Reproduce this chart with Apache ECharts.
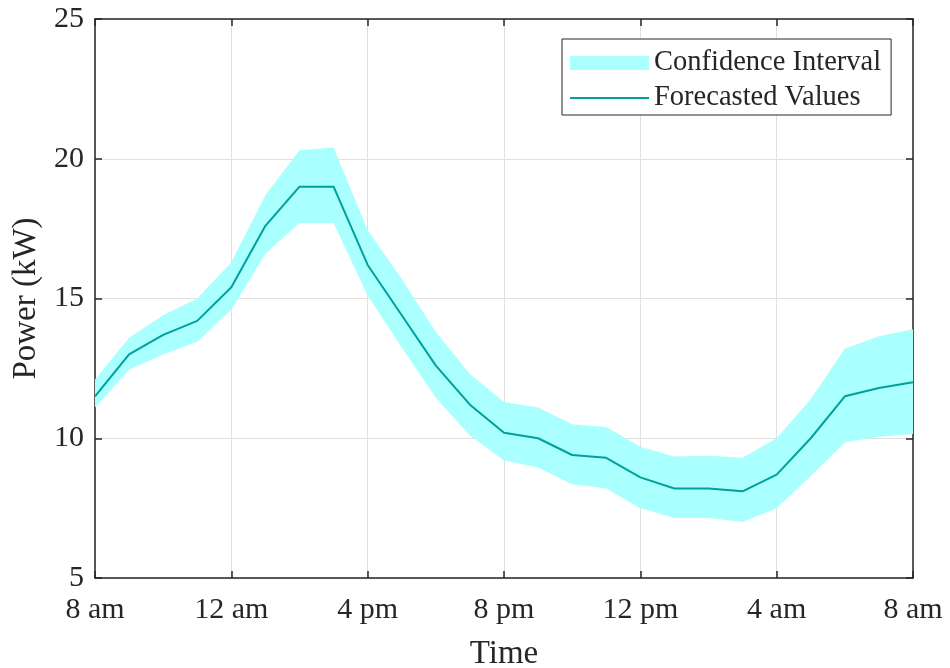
<!DOCTYPE html>
<html>
<head>
<meta charset="utf-8">
<script src="https://cdn.jsdelivr.net/npm/echarts@6/dist/echarts.min.js"></script>
<style>
html,body{margin:0;padding:0;background:#fff;}
#chart{width:950px;height:668px;}
</style>
</head>
<body>
<div id="chart"></div>
<script>
var hours = ['0','1','2','3','4','5','6','7','8','9','10','11','12','13','14','15','16','17','18','19','20','21','22','23','24'];
var tickLabels = ['8 am','12 am','4 pm','8 pm','12 pm','4 am','8 am'];
var forecast = [11.5,13.0,13.7,14.2,15.4,17.6,19.0,19.0,16.2,14.4,12.6,11.2,10.2,10.0,9.4,9.3,8.6,8.2,8.2,8.1,8.7,10.0,11.5,11.8,12.0];
var upper = [12.1,13.6,14.4,15.0,16.3,18.7,20.3,20.4,17.45,15.7,13.8,12.3,11.3,11.1,10.5,10.4,9.7,9.35,9.37,9.3,10.0,11.4,13.2,13.65,13.9];
var lower = [11.1,12.45,13.0,13.45,14.6,16.6,17.7,17.7,15.1,13.25,11.45,10.1,9.2,8.95,8.35,8.2,7.5,7.15,7.15,7.0,7.5,8.65,9.85,10.05,10.15];

var FONT = 'Liberation Serif';
var TXT = '#262626';
var bandColor = '#aaffff';
var lineColor = '#00a09c';

var widthData = upper.map(function(u,i){return +(u-lower[i]).toFixed(3);});

var chart = echarts.init(document.getElementById('chart'), null, {renderer:'canvas'});
var axisLineStyle = {color:'#262626', width:1.5};
var everyFourth = function(idx){return idx % 4 === 0;};
chart.setOption({
  animation:false,
  backgroundColor:'#ffffff',
  textStyle:{fontFamily:FONT, color:TXT},
  grid:{left:95, right:37, top:19, bottom:90, containLabel:false, outerBoundsMode:'none'},
  legend:{
    orient:'vertical', left:562, top:39,
    backgroundColor:'#ffffff', borderColor:'#262626', borderWidth:1,
    padding:[9,10,2,8], itemGap:5, itemWidth:79, itemHeight:14,
    textStyle:{fontFamily:FONT, fontSize:28.5, color:TXT, lineHeight:30},
    data:[
      {name:'Confidence Interval', icon:'rect', itemStyle:{color:bandColor}},
      {name:'Forecasted Values', icon:'path://M0,0L0,0ZM0,6L79,6L79,8L0,8ZM0,14L0,14Z', itemStyle:{color:lineColor}}
    ]
  },
  xAxis:[{
    type:'category', data:hours, boundaryGap:false, position:'bottom',
    name:'Time', nameLocation:'middle', nameGap:60,
    nameTextStyle:{fontFamily:FONT, fontSize:33, color:TXT},
    axisLine:{show:true, lineStyle:axisLineStyle},
    axisTick:{show:true, inside:true, length:7, interval:everyFourth, lineStyle:axisLineStyle},
    axisLabel:{fontFamily:FONT, fontSize:30, color:TXT, margin:17, interval:everyFourth,
      formatter:function(v, idx){return tickLabels[Math.round(idx/4)];}},
    splitLine:{show:true, interval:everyFourth, lineStyle:{color:'#e0e0e0', width:1}}
  },{
    type:'category', data:hours, boundaryGap:false, position:'top',
    axisLine:{show:true, lineStyle:axisLineStyle},
    axisTick:{show:true, inside:true, length:7, interval:everyFourth, lineStyle:axisLineStyle},
    axisLabel:{show:false}, splitLine:{show:false}
  }],
  yAxis:[{
    type:'value', min:5, max:25, interval:5, position:'left',
    name:'Power (kW)', nameLocation:'middle', nameGap:51,
    nameTextStyle:{fontFamily:FONT, fontSize:33, color:TXT},
    axisLine:{show:true, lineStyle:axisLineStyle},
    axisTick:{show:true, inside:true, length:7, lineStyle:axisLineStyle},
    axisLabel:{fontFamily:FONT, fontSize:30, color:TXT, margin:11},
    splitLine:{show:true, lineStyle:{color:'#e0e0e0', width:1}}
  },{
    type:'value', min:5, max:25, interval:5, position:'right',
    axisLine:{show:true, lineStyle:axisLineStyle},
    axisTick:{show:true, inside:true, length:7, lineStyle:axisLineStyle},
    axisLabel:{show:false}, splitLine:{show:false}
  }],
  series:[
    {name:'lower', type:'line', stack:'ci', data:lower, symbol:'none',
     lineStyle:{opacity:0, width:0}, silent:true, z:1},
    {name:'Confidence Interval', type:'line', stack:'ci', data:widthData, symbol:'none',
     lineStyle:{opacity:0, width:0}, itemStyle:{color:bandColor},
     areaStyle:{color:bandColor, opacity:1}, silent:true, z:1},
    {name:'Forecasted Values', type:'line', data:forecast, symbol:'none',
     itemStyle:{color:lineColor},
     lineStyle:{color:lineColor, width:2}, z:3}
  ]
});
</script>
</body>
</html>
